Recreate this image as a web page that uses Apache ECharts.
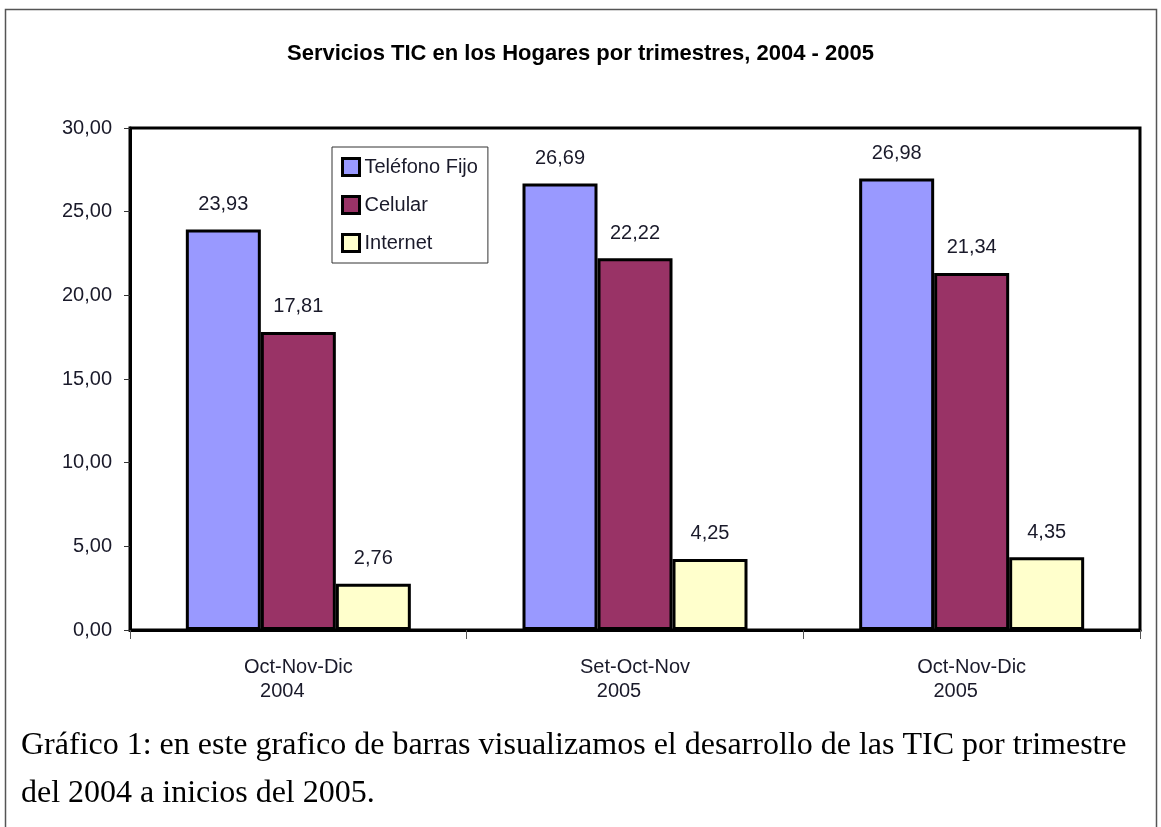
<!DOCTYPE html>
<html>
<head>
<meta charset="utf-8">
<script src="https://cdn.jsdelivr.net/npm/echarts@6/dist/echarts.min.js"></script>
<style>
  html, body { margin: 0; padding: 0; background: #fff; }
  #chart { width: 1161px; height: 827px; }
</style>
</head>
<body>
<div id="chart"></div>
<script>
// datos del gráfico
var periodos = ["Oct-Nov-Dic", "Set-Oct-Nov", "Oct-Nov-Dic"];
var anios = ["2004", "2005", "2005"];
var telefonoFijo = [23.93, 26.69, 26.98];
var celular = [17.81, 22.22, 21.34];
var internet = [2.76, 4.25, 4.35];
var yTicks = { min: 0, max: 30, interval: 5 };
var titulo = "Servicios TIC en los Hogares por trimestres, 2004 - 2005";
var pie1 = "Gráfico 1: en este grafico de barras visualizamos el desarrollo de las TIC por trimestre";
var pie2 = "del 2004 a inicios del 2005.";

var trimestres = periodos.map(function (p, i) { return p + "|" + anios[i]; });

function coma(v) {
  return v.toFixed(2).replace(".", ",");
}

var fuente = "Liberation Sans, Arial, sans-serif";
var myChart = echarts.init(document.getElementById("chart"));

function serie(nombre, datos, color) {
  return {
    name: nombre,
    type: "bar",
    data: datos,
    barWidth: 75,
    barGap: "0%",
    itemStyle: { color: color, borderColor: "#000", borderWidth: 3 },
    label: {
      show: true,
      position: "top",
      distance: 15,
      formatter: function (p) { return coma(p.value); },
      fontFamily: fuente,
      fontSize: 20,
      color: "#1a1a2a"
    }
  };
}

var option = {
  backgroundColor: "#fff",
  animation: false,
  title: {
    text: titulo,
    left: "center",
    top: 38,
    textStyle: {
      fontFamily: "Liberation Sans Narrow, Liberation Sans, Arial, sans-serif",
      fontWeight: "bold",
      fontSize: 22,
      color: "#000"
    }
  },
  legend: {
    orient: "vertical",
    left: 332,
    top: 147,
    padding: [10, 10, 10, 9],
    itemGap: 18,
    itemWidth: 17,
    itemHeight: 17,
    borderColor: "#333",
    borderWidth: 1,
    backgroundColor: "#fff",
    icon: "rect",
    textStyle: {
      fontFamily: fuente,
      fontSize: 20,
      lineHeight: 20,
      color: "#1a1a2a"
    },
    itemStyle: { borderColor: "#000", borderWidth: 3 },
    data: ["Teléfono Fijo", "Celular", "Internet"]
  },
  grid: {
    left: 130,
    right: 21,
    top: 128,
    bottom: 197,
    show: true,
    borderColor: "#000",
    borderWidth: 3,
    backgroundColor: "#fff"
  },
  xAxis: {
    type: "category",
    data: trimestres,
    axisLine: { show: true, lineStyle: { color: "#000", width: 3 } },
    axisTick: { show: true, length: 9, lineStyle: { color: "#555", width: 1 } },
    axisLabel: {
      margin: 25,
      formatter: function (v) {
        var partes = v.split("|");
        return "{a|" + partes[0] + "}\n{b|" + partes[1] + "}";
      },
      rich: {
        a: { fontFamily: fuente, fontSize: 20, lineHeight: 24, color: "#1a1a2a" },
        b: { fontFamily: fuente, fontSize: 20, lineHeight: 24, color: "#1a1a2a", padding: [0, 32, 0, 0] }
      }
    }
  },
  yAxis: {
    type: "value",
    min: yTicks.min,
    max: yTicks.max,
    interval: yTicks.interval,
    splitLine: { show: false },
    axisLine: { show: true, lineStyle: { color: "#000", width: 3 } },
    axisTick: { show: true, length: 6, lineStyle: { color: "#333", width: 1 } },
    axisLabel: {
      margin: 18,
      formatter: function (v) { return coma(v); },
      fontFamily: fuente,
      fontSize: 20,
      color: "#1a1a2a"
    }
  },
  series: [
    serie("Teléfono Fijo", telefonoFijo, "#9999FF"),
    serie("Celular", celular, "#993366"),
    serie("Internet", internet, "#FFFFCC")
  ],
  graphic: [
    {
      type: "rect",
      shape: { x: 5.5, y: 9.5, width: 1151, height: 830 },
      style: { fill: "none", stroke: "#555", lineWidth: 1.5 },
      z: -1
    },
    {
      type: "text",
      left: 21,
      top: 730,
      style: {
        text: pie1,
        font: "32px 'Liberation Serif', 'Times New Roman', serif",
        fill: "#000"
      }
    },
    {
      type: "text",
      left: 21,
      top: 778,
      style: {
        text: pie2,
        font: "32px 'Liberation Serif', 'Times New Roman', serif",
        fill: "#000"
      }
    }
  ]
};

myChart.setOption(option);
</script>
</body>
</html>
